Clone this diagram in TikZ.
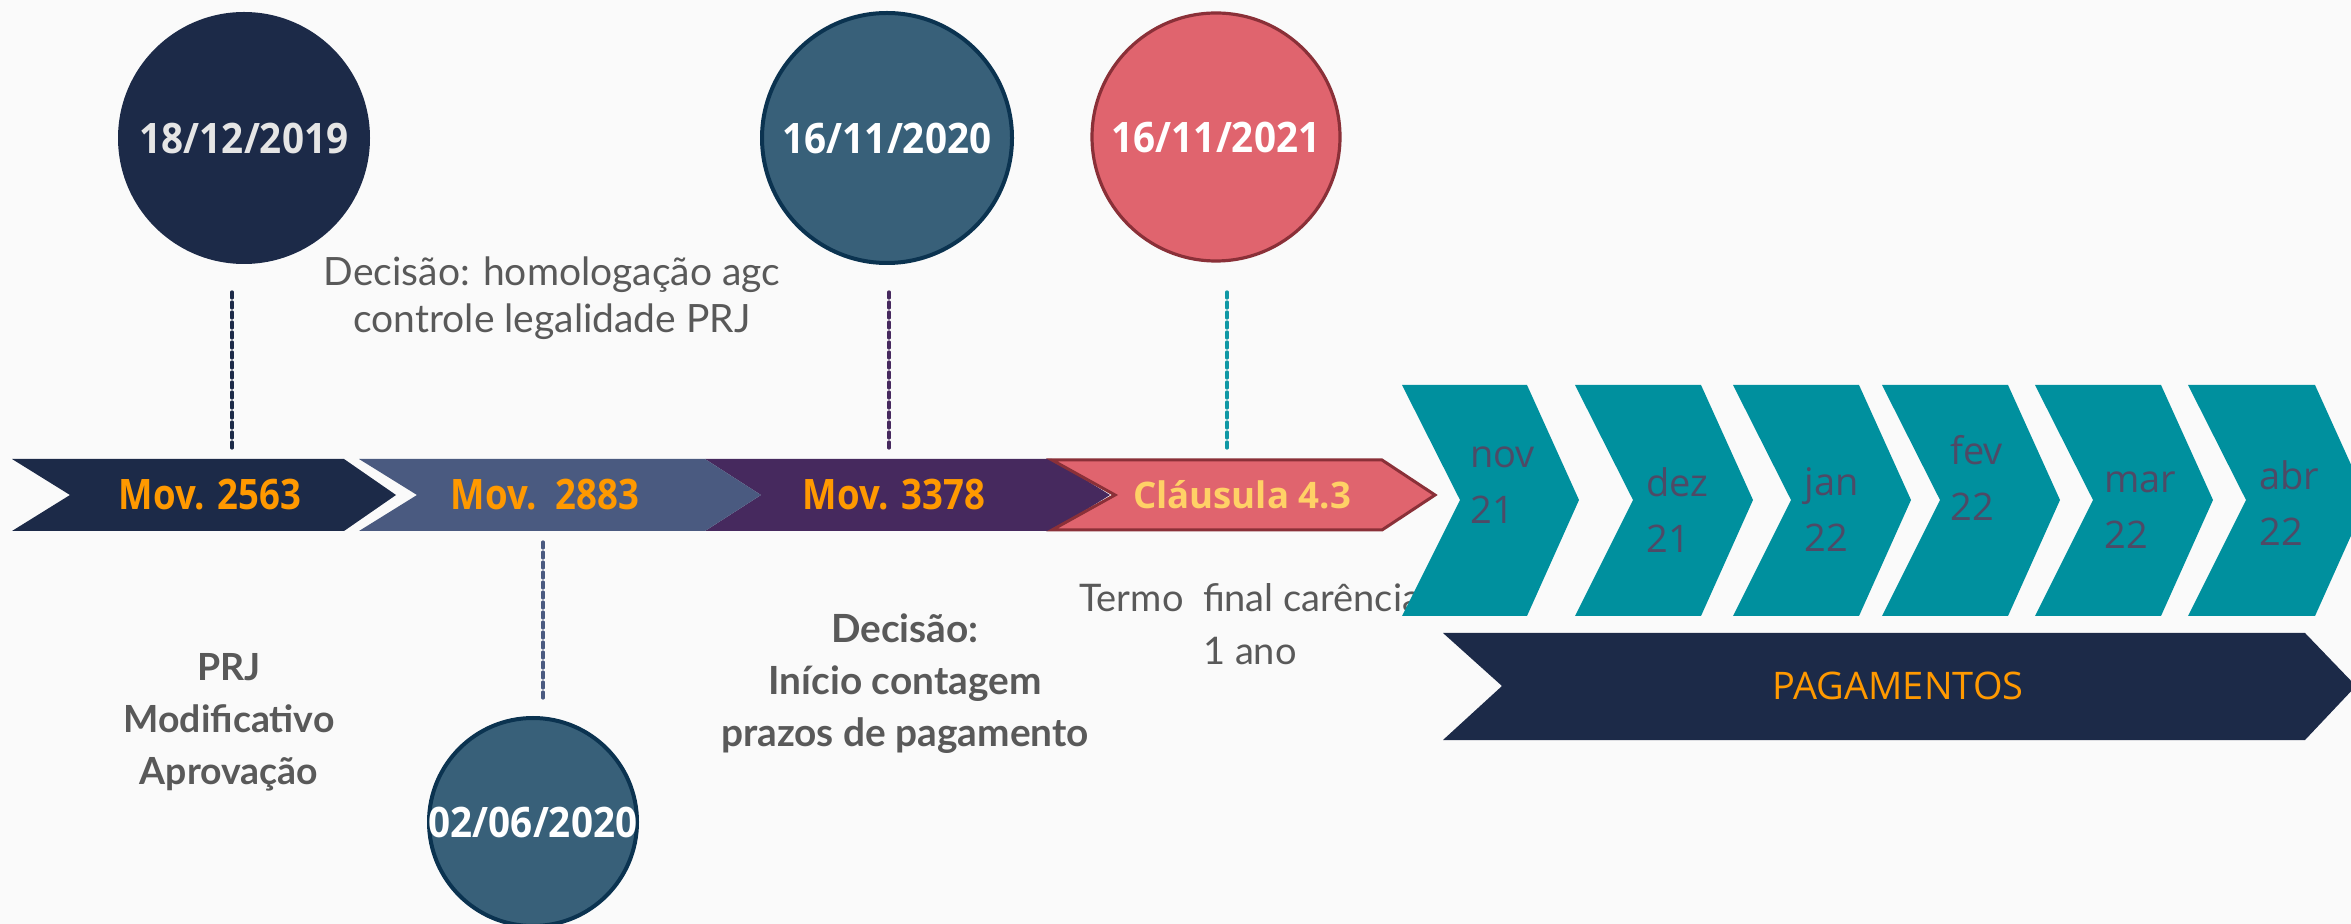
\documentclass[tikz,border=0pt]{standalone}
\usepackage{fontspec}
\newfontfamily\lato{Lato}
\newfontfamily\osans{Open Sans}
\newfontfamily\osanscond[FakeStretch=0.87]{Open Sans}
\newfontfamily\osansdate[FakeStretch=0.92]{Open Sans}
\definecolor{navy}{HTML}{1C2A48}
\definecolor{slate}{HTML}{4A5A80}
\definecolor{plum}{HTML}{46295E}
\definecolor{coral}{HTML}{E0646E}
\definecolor{coraledge}{HTML}{8A3038}
\definecolor{tealc}{HTML}{00909E}
\definecolor{teald}{HTML}{1098A5}
\definecolor{steel}{HTML}{386079}
\definecolor{steeledge}{HTML}{0B3350}
\definecolor{txtgrey}{HTML}{595959}
\definecolor{orng}{HTML}{FF9900}
\definecolor{gold}{HTML}{FFD166}
\definecolor{monthtxt}{HTML}{4E4A66}
\definecolor{bgc}{HTML}{FAFAFA}
\tikzset{
  datecirc/.style={circle, inner sep=0pt},
  datetxt/.style={inner sep=0pt, font=\osansdate\bfseries\fontsize{21}{25}\selectfont, text=white},
  movtxt/.style={inner sep=0pt, font=\osanscond\bfseries\fontsize{21}{25}\selectfont, text=orng},
  monthtxt/.style={inner sep=0pt, anchor=west, align=left, font=\osans\fontsize{19}{28}\selectfont, text=monthtxt},
  vline/.style={line width=1.6pt, dash pattern=on 3pt off 2pt, line cap=round},
  greytxt/.style={inner sep=0pt, align=center, text=txtgrey},
}
\begin{document}
\begin{tikzpicture}[x=0.5pt, y=-0.5pt]
\fill[bgc] (0,0) rectangle (2351,924);
\useasboundingbox (0,0) rectangle (2351,924);

% grey texts (drawn first; chevrons overlap)
\node[greytxt, font=\lato\fontsize{19.5}{23.5}\selectfont] (dec1) at (552,298) {Decisão: homologação agc\\controle legalidade PRJ};
\node[greytxt, font=\lato\bfseries\fontsize{18.7}{26}\selectfont] (prj) at (229,722) {PRJ\\Modificativo\\Aprovação};
\node[greytxt, font=\lato\bfseries\fontsize{19.4}{26}\selectfont] (dec2) at (905,684) {Decisão:\\Início contagem\\prazos de pagamento};
\node[greytxt, font=\lato\fontsize{19}{26.5}\selectfont] (termo) at (1250,624) {Termo\ \ final carência\\1 ano};

% circles
\node[datecirc, fill=navy, minimum size=126pt] (c1) at (244,138) {};
\node[datecirc, fill=steel, draw=steeledge, line width=2pt, minimum size=125pt] (c2) at (887,138) {};
\node[datecirc, fill=coral, draw=coraledge, line width=1.6pt, minimum size=124pt] (c3) at (1216,137) {};
\node[datecirc, fill=steel, draw=steeledge, line width=2pt, minimum size=104pt] (c4) at (533,822) {};
\node[datetxt, text=white!90!black] (t1) at (c1) {18/12/2019};
\node[datetxt] (t2) at (c2) {16/11/2020};
\node[datetxt] (t3) at (c3) {16/11/2021};
\node[datetxt] (t4) at (c4) {02/06/2020};

% dashed connectors
\coordinate (a1) at (232,292); \coordinate (b1) at (232,450);
\coordinate (a2) at (889,292); \coordinate (b2) at (889,450);
\coordinate (a3) at (1227,292); \coordinate (b3) at (1227,450);
\coordinate (a4) at (543,542); \coordinate (b4) at (543,698);
\draw[vline, navy] (a1) -- (b1);
\draw[vline, plum] (a2) -- (b2);
\draw[vline, teald] (a3) -- (b3);
\draw[vline, slate] (a4) -- (b4);

% timeline bar
\fill[plum] (705,459) -- (1052,459) -- (1110,495) -- (1052,531) -- (705,531) -- (761,495) -- cycle;
\fill[slate] (359,459) -- (705,459) -- (761,495) -- (705,531) -- (359,531) -- (417,495) -- cycle;
\fill[navy] (12,459) -- (344,459) -- (396,495) -- (344,531) -- (12,531) -- (70,495) -- cycle;
\filldraw[fill=coral, draw=coraledge, line width=1.5pt, line join=miter] (1052,460) -- (1382,460) -- (1435,495) -- (1382,530) -- (1052,530) -- (1115,495) -- cycle;
\node[movtxt] (m1) at (210,495) {Mov. 2563};
\node[movtxt] (m2) at (545,495) {Mov.\ \ 2883};
\node[movtxt] (m3) at (894,495) {Mov. 3378};
\node[inner sep=0pt, font=\osans\bfseries\fontsize{18.3}{23}\selectfont, text=gold] (m4) at (1242,495) {Cláusula 4.3};

% month chevrons
\foreach \l/\r in {1402/1527, 1575/1701, 1733/1859, 1882/2008, 2035/2161, 2188/2315}{
  \fill[tealc] (\l,385) -- (\r,385) -- ({\r+52},500) -- (\r,616) -- (\l,616) -- ({\l+58},500) -- cycle;
}
\node[monthtxt] (nov) at (1470,485) {nov\\21};
\node[monthtxt] (dez) at (1646,510) {dez\\21};
\node[monthtxt] (jan) at (1804,510) {jan\\22};
\node[monthtxt] (fev) at (1950,478) {fev\\22};
\node[monthtxt] (mar) at (2104,510) {mar\\22};
\node[monthtxt] (abr) at (2259,503) {abr\\22};

% pagamentos
\fill[navy] (1443,633) -- (2305,633) -- (2356,686) -- (2305,740) -- (1443,740) -- (1502,686) -- cycle;
\node[inner sep=0pt, font=\osans\fontsize{19}{23}\selectfont, text=orng] (pag) at (1898,686) {PAGAMENTOS};
\end{tikzpicture}
\end{document}
